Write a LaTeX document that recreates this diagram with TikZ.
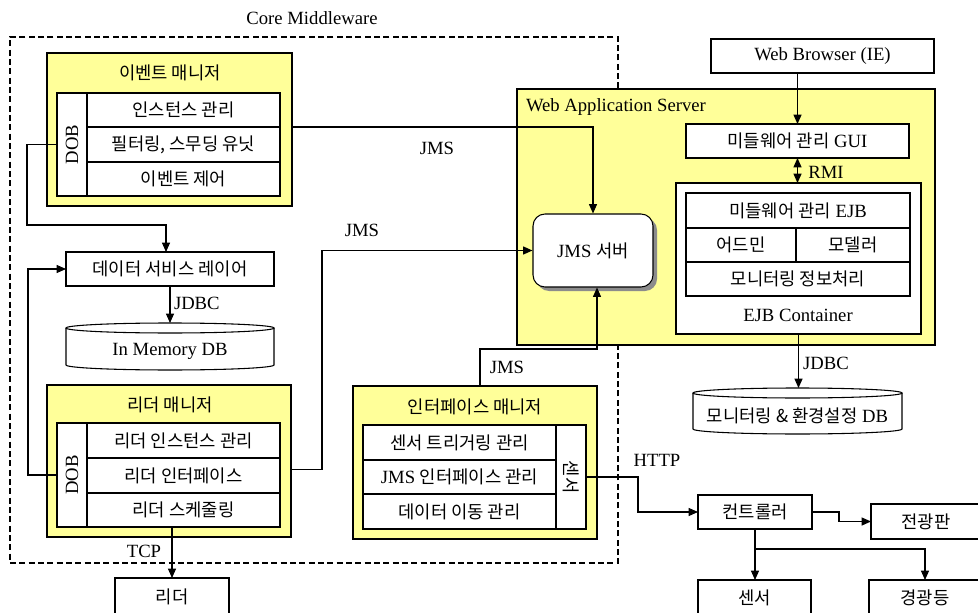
\documentclass[tikz,border=0pt]{standalone}
\usepackage{fontspec}
\usepackage{graphicx}
\setmainfont{Liberation Serif}
\newfontfamily\kr[Scale=0.95]{Noto Sans CJK KR}
\usetikzlibrary{arrows.meta,calc,shadows}
\definecolor{panel}{RGB}{255,255,153}
\newcommand\K[1]{{\kr #1}}
% \rnode{name}{style}{x1}{y1}{x2}{y2}{text}: rectangle node from corner to corner (pixel units)
\newcommand\rnode[7]{\node[#2, minimum width={(#5-#3)*0.75pt}, minimum height={(#6-#4)*0.75pt}] (#1) at ({(#3+#5)/2},{(#4+#6)/2}) {#7};}
% \dbshape{name}{x1}{y1}{x2}{y2}{text}: database cylinder
\newcommand\dbshape[6]{%
  \rnode{#1}{lbl}{#2}{#3}{#4}{#5}{}
  \fill[white] (#2,#3+5) rectangle (#4,#5-5);
  \draw[link,fill=white] (#2,#3+5) -- (#2,#5-5) arc[start angle=180,end angle=360,x radius={(#4-#2)*0.375pt},y radius=3.75pt] -- (#4,#3+5);
  \draw[link,fill=white] ({(#2+#4)/2},#3+5) ellipse[x radius={(#4-#2)*0.375pt},y radius=3.75pt];
  \node[lbl] (#1text) at ($(#1.center)+(0,5)$) {#6};}
\tikzset{
  wbox/.style={draw, fill=white, line width=0.8pt, inner sep=0pt, outer sep=0pt},
  ybox/.style={draw, fill=panel, line width=0.8pt, inner sep=0pt, outer sep=0pt},
  corebox/.style={draw, line width=0.8pt, dash pattern=on 4.5pt off 2.5pt, inner sep=0pt, outer sep=0pt},
  lbl/.style={inner sep=0pt, outer sep=0pt},
  link/.style={line width=0.8pt},
  flow/.style={line width=0.8pt, -{Triangle[length=7pt,width=6pt]}},
  flow2/.style={line width=0.8pt, {Triangle[length=7pt,width=6pt]}-{Triangle[length=7pt,width=6pt]}},
}
\begin{document}
\begin{tikzpicture}[x=0.75pt,y=-0.75pt,font=\fontsize{14}{16}\selectfont]
\useasboundingbox (0,0) rectangle (978,613);
\clip (0,0) rectangle (978,613);

% ---------- Core Middleware frame ----------
\rnode{core}{corebox}{10}{37}{618}{563}{}
\node[lbl] (coretitle) at (312,18) {Core Middleware};

% ---------- Event manager ----------
\rnode{em}{ybox}{47}{53}{292}{206}{}
\node[lbl] (emtitle) at (170,73) {\K{이벤트 매니저}};
\rnode{edob}{wbox}{57}{93}{87}{196}{\rotatebox{90}{DOB}}
\rnode{er1}{wbox}{87}{93}{280}{127}{\K{인스턴스 관리}}
\rnode{er2}{wbox}{87}{127}{280}{162}{\K{필터링, 스무딩 유닛}}
\rnode{er3}{wbox}{87}{162}{280}{196}{\K{이벤트 제어}}

% ---------- Data service layer and in-memory DB ----------
\rnode{dsl}{wbox}{66}{252}{274}{286}{\K{데이터 서비스 레이어}}
\dbshape{imdb}{66}{323}{274}{370}{In Memory DB}
\node[lbl, anchor=west] (jdbc1) at (174,303) {JDBC};

% ---------- Reader manager ----------
\rnode{rm}{ybox}{47}{385}{291}{537}{}
\node[lbl] (rmtitle) at (170,405) {\K{리더 매니저}};
\rnode{rdob}{wbox}{57}{423}{87}{527}{\rotatebox{90}{DOB}}
\rnode{rr1}{wbox}{87}{423}{280}{458}{\K{리더 인스턴스 관리}}
\rnode{rr2}{wbox}{87}{458}{280}{493}{\K{리더 인터페이스}}
\rnode{rr3}{wbox}{87}{493}{280}{527}{\K{리더 스케줄링}}
\rnode{reader}{wbox}{115}{578}{229}{616}{\K{리더}}
\node[lbl] (tcp) at (144,551) {TCP};

% ---------- Interface manager ----------
\rnode{im}{ybox}{353}{386}{597}{539}{}
\node[lbl] (imtitle) at (475,407) {\K{인터페이스 매니저}};
\rnode{ir1}{wbox}{363}{425}{556}{460}{\K{센서 트리거링 관리}}
\rnode{ir2}{wbox}{363}{460}{556}{494}{JMS \K{인터페이스 관리}}
\rnode{ir3}{wbox}{363}{494}{556}{529}{\K{데이터 이동 관리}}
\rnode{isens}{wbox}{556}{425}{586}{529}{\rotatebox{-90}{\K{센서}}}

% ---------- Web Application Server ----------
\rnode{was}{ybox}{517}{89}{935}{345}{}
\node[lbl, anchor=west] (wastitle) at (526,107) {Web Application Server};
\node[draw, fill=white, line width=0.8pt, rounded corners=9pt, inner sep=0pt,
      minimum width=90pt, minimum height=54.75pt,
      drop shadow={shadow xshift=3pt, shadow yshift=-3pt, fill=black!45, opacity=1}]
      (jms) at (593,250.5) {JMS \K{서버}};
\rnode{browser}{wbox}{711}{39}{934}{73}{Web Browser (IE)}
\rnode{gui}{wbox}{686}{124}{909}{158}{\K{미들웨어 관리} GUI}
\rnode{ejbc}{wbox}{676}{183}{921}{334}{}
\rnode{ejb1}{wbox}{686}{193}{910}{228}{\K{미들웨어 관리} EJB}
\rnode{ejb2}{wbox}{686}{228}{796}{262}{\K{어드민}}
\rnode{ejb3}{wbox}{796}{228}{910}{262}{\K{모델러}}
\rnode{ejb4}{wbox}{686}{262}{910}{296}{\K{모니터링 정보처리}}
\node[lbl] (ejbtitle) at (798,315) {EJB Container};
\node[lbl] (rmi) at (826,172) {RMI};

% ---------- Monitoring DB ----------
\dbshape{mondb}{693}{388}{902}{434}{\K{모니터링 \& 환경설정} DB}
\node[lbl] (jdbc2) at (826,363) {JDBC};

% ---------- Field devices ----------
\rnode{ctrl}{wbox}{698}{495}{812}{529}{\K{컨트롤러}}
\rnode{board}{wbox}{871}{504}{981}{539}{\K{전광판}}
\rnode{sensor}{wbox}{698}{580}{811}{616}{\K{센서}}
\rnode{lamp}{wbox}{869}{580}{981}{616}{\K{경광등}}
\node[lbl] (http) at (657,460) {HTTP};

% ---------- Protocol labels ----------
\node[lbl] (jmsA) at (437,148) {JMS};
\node[lbl] (jmsB) at (362,230) {JMS};
\node[lbl] (jmsC) at (507,367) {JMS};

% ---------- Connectors ----------
\draw[flow] (edob.west) -- ++(-30,0) |- ($(dsl.north)+(-4,-27)$) -- ($(dsl.north)+(-4,0)$);
\draw[flow] (rdob.west) -- ++(-29,0) |- (dsl.west);
\draw[flow] (dsl.south) -- (imdb.north);
\draw[flow] (rr3.south -| reader.north) -- (reader.north);
\draw[flow] (er1.south -| em.east) -| (jms.north);
\coordinate (rbend) at (322,0);
\draw[flow] ($(rr2.east -| rm.east)+(0,-6)$) -| (rbend |- jms.west) -- (jms.west);
\draw[flow] ($(im.north)+(5,0)$) -- ($(im.north)+(5,-37)$) -| ($(jms.south)+(4,0)$);
\draw[flow] (browser.south -| gui.north) -- (gui.north);
\draw[flow2] (gui.south) -- (gui.south |- ejbc.north);
\draw[flow] (ejbc.south) -- (ejbc.south |- mondb.north);
\coordinate (hbend) at (638,0);
\draw[flow] (isens.east) -- (hbend |- isens.east) |- (ctrl.west);
\coordinate (bbend) at (839,0);
\draw[flow] (ctrl.east) -- (bbend |- ctrl.east) |- (board.west);
\coordinate (split) at ($(ctrl.south)+(0,20)$);
\draw[flow] (ctrl.south) -- (ctrl.south |- sensor.north);
\draw[flow] (split) -| (lamp.north);
\end{tikzpicture}
\end{document}
